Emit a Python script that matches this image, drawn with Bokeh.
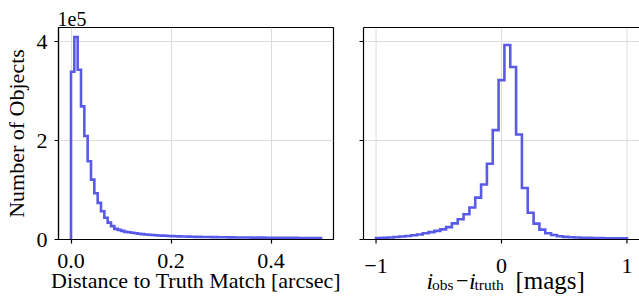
import numpy as np
from bokeh.plotting import figure
from bokeh.layouts import row
from bokeh.models import Range1d, FixedTicker, PrintfTickFormatter, Title, LinearAxis
from bokeh.core.properties import value
from bokeh.embed import file_html
from bokeh.resources import INLINE

# ---- data ----
dist_range = [0.0, 0.5]          # arcsec, 75 bins
dist_counts = [339000, 409000, 343000, 269000, 209000, 158000, 121000, 93500, 74000, 57000,
               44000, 34000, 27000, 21500,
               19500, 17500, 15500, 14500, 13500, 12500, 11500, 10800, 10000, 9500,
               9000, 8600, 8200, 7900, 7500, 7200, 6900, 6600, 6400, 6200,
               6000, 5800, 5600, 5400, 5300, 5100, 5000, 4900, 4800, 4700,
               4600, 4500, 4400, 4300, 4200, 4100, 4050, 4000, 3950, 3900,
               3850, 3800, 3750, 3700, 3650, 3600, 3550, 3500, 3450, 3400,
               3350, 3300, 3250, 3200, 3150, 3100, 3050, 3000, 2950, 2900, 2850]

dmag_range = [-1.0, 1.0]          # mags, 43 bins
dmag_counts = [3000, 3500, 4000, 5000, 6000, 7000, 8500, 10000, 12500, 15000,
               17500, 20500, 25000, 32500, 41000, 51000, 64500, 84500, 111000, 153000,
               221000, 322000, 393000, 348500, 212000, 104000, 54000, 32000, 20000, 12500,
               9000, 6700, 5300, 4500, 4000, 3600, 3300, 3000, 2800, 2600,
               2500, 2400, 2300]

y_max = 428300
y_ticks = [0, 200000, 400000]
y_tick_labels = ["0", "2", "4"]
y_offset_text = "1e5"
left_x_ticks = [0.0, 0.2, 0.4]
right_x_ticks = [-1, 0, 1]
right_x_tick_labels = ["\u22121", "0", "1"]
left_xlabel = "Distance to Truth Match [arcsec]"
ylabel = "Number of Objects"
# pieces of the right x label  i_obs - i_truth [mags]
# (text, x offset px from x=0, baseline px below the x axis, size, style)
right_xlabel_parts = [
    ("i", -75, 41, "24px", "italic"),
    ("obs", -69.5, 44.5, "15.5px", "normal"),
    ("\u2212", -45.5, 41, "22px", "normal"),
    ("i", -32.5, 41, "24px", "italic"),
    ("truth", -27, 44.5, "15.5px", "normal"),
    ("[mags]", 14, 41, "25px", "normal"),
]

FONT = "Liberation Serif"
LINE_COLOR = "#5a5ae8"
GRID_COLOR = "#dcdcdc"
TICK_FS = "22px"
LABEL_FS = "22px"
FRAME_H = 212        # px height of the plotting box
BELOW_H = 58         # px of the right panel used for its x axis texts


def step_path(lo, hi, counts):
    edges = np.linspace(lo, hi, len(counts) + 1)
    xs, ys = [edges[0]], [0]
    for i, c in enumerate(counts):
        xs += [edges[i], edges[i + 1]]
        ys += [c, c]
    xs.append(edges[-1]); ys.append(0)
    return xs, ys


def style(p):
    p.outline_line_color = "black"
    p.outline_line_width = 1.2
    p.outline_line_alpha = 1
    for ax in p.axis:
        ax.axis_line_color = "black"
        ax.axis_line_width = 1.2
        ax.major_tick_line_color = "black"
        ax.major_tick_line_width = 1.2
        ax.major_tick_out = 4
        ax.major_tick_in = 0
        ax.minor_tick_line_color = None
        ax.major_label_text_font = FONT
        ax.major_label_text_font_size = TICK_FS
        ax.major_label_text_color = "black"
        ax.axis_label_text_font = FONT
        ax.axis_label_text_font_size = LABEL_FS
        ax.axis_label_text_font_style = "normal"
        ax.axis_label_text_color = "black"
    p.grid.grid_line_color = GRID_COLOR
    p.grid.grid_line_width = 1
    p.background_fill_color = "white"
    p.border_fill_color = "white"


# ---- left panel ----
p1 = figure(frame_width=275, frame_height=FRAME_H, output_backend="svg", toolbar_location=None,
            x_range=Range1d(-0.025, 0.525), y_range=Range1d(0, y_max),
            min_border_left=58, min_border_right=14, min_border_top=27, min_border_bottom=0)
style(p1)
xs, ys = step_path(dist_range[0], dist_range[1], dist_counts)
p1.line(xs, ys, line_color=LINE_COLOR, line_width=2.6, line_join="miter")
p1.xaxis.ticker = FixedTicker(ticks=left_x_ticks)
p1.xaxis.formatter = PrintfTickFormatter(format="%.1f")
p1.yaxis.ticker = FixedTicker(ticks=y_ticks)
p1.yaxis.major_label_overrides = dict(zip(y_ticks, y_tick_labels))
p1.xaxis.axis_label = left_xlabel
p1.yaxis.axis_label = ylabel
p1.xaxis.major_label_standoff = 10
p1.xaxis.axis_label_standoff = -3
p1.yaxis.major_label_standoff = 7
p1.yaxis.axis_label_standoff = 5
p1.add_layout(Title(text=y_offset_text, align="left", text_font=FONT, text_font_size="20px",
                    text_font_style="normal", text_color="black", standoff=3, offset=-1),
              "above")

# ---- right panel: box on top, x-axis texts in the lower part of the same frame ----
per_px = y_max / FRAME_H
p2 = figure(frame_width=276, frame_height=FRAME_H + BELOW_H, output_backend="svg",
            toolbar_location=None, x_range=Range1d(-1.1, 1.1),
            y_range=Range1d(-BELOW_H * per_px, y_max), x_axis_location=None,
            min_border_left=16, min_border_right=0, min_border_top=27, min_border_bottom=0)
style(p2)
p2.outline_line_color = None
top_axis = LinearAxis(ticker=FixedTicker(ticks=[], minor_ticks=[]), axis_line_color="black",
                      axis_line_width=1.2, major_tick_line_color=None,
                      minor_tick_line_color=None, major_label_text_color=None)
p2.add_layout(top_axis, "above")
p2.yaxis.ticker = FixedTicker(ticks=y_ticks)
p2.yaxis.bounds = (0, y_max)
p2.yaxis.major_label_overrides = {t: "" for t in y_ticks}   # shared y scale: marks only
p2.yaxis.major_label_text_color = None
p2.yaxis.major_label_text_font_size = "1px"
p2.yaxis.major_label_standoff = 0
p2.xgrid.visible = False
p2.ygrid.ticker = FixedTicker(ticks=y_ticks)
p2.segment(x0=right_x_ticks, y0=[0] * 3, x1=right_x_ticks, y1=[y_max] * 3,
           line_color=GRID_COLOR, line_width=1)
xs2, ys2 = step_path(dmag_range[0], dmag_range[1], dmag_counts)
p2.line(xs2, ys2, line_color=LINE_COLOR, line_width=2.6, line_join="miter")
# x axis line, ticks, tick labels
p2.segment(x0=[-1.1], y0=[0], x1=[1.1], y1=[0], line_color="black", line_width=1.2)
p2.segment(x0=right_x_ticks, y0=[0] * 3, x1=right_x_ticks, y1=[-4 * per_px] * 3,
           line_color="black", line_width=1.2)
p2.text(x=right_x_ticks, y=[-26.5 * per_px] * 3, text=right_x_tick_labels,
        text_font=value(FONT), text_font_size=value(TICK_FS), text_align="center",
        text_baseline="alphabetic", text_color="black")
for txt, xo, yb, fs, st in right_xlabel_parts:
    p2.text(x=[0], y=[-yb * per_px], text=[txt], x_offset=xo, text_font=value(FONT),
            text_font_size=value(fs), text_font_style=st, text_align="left",
            text_baseline="alphabetic", text_color="black")

layout = row(p1, p2)
open("out.html", "w").write(file_html(layout, INLINE))
